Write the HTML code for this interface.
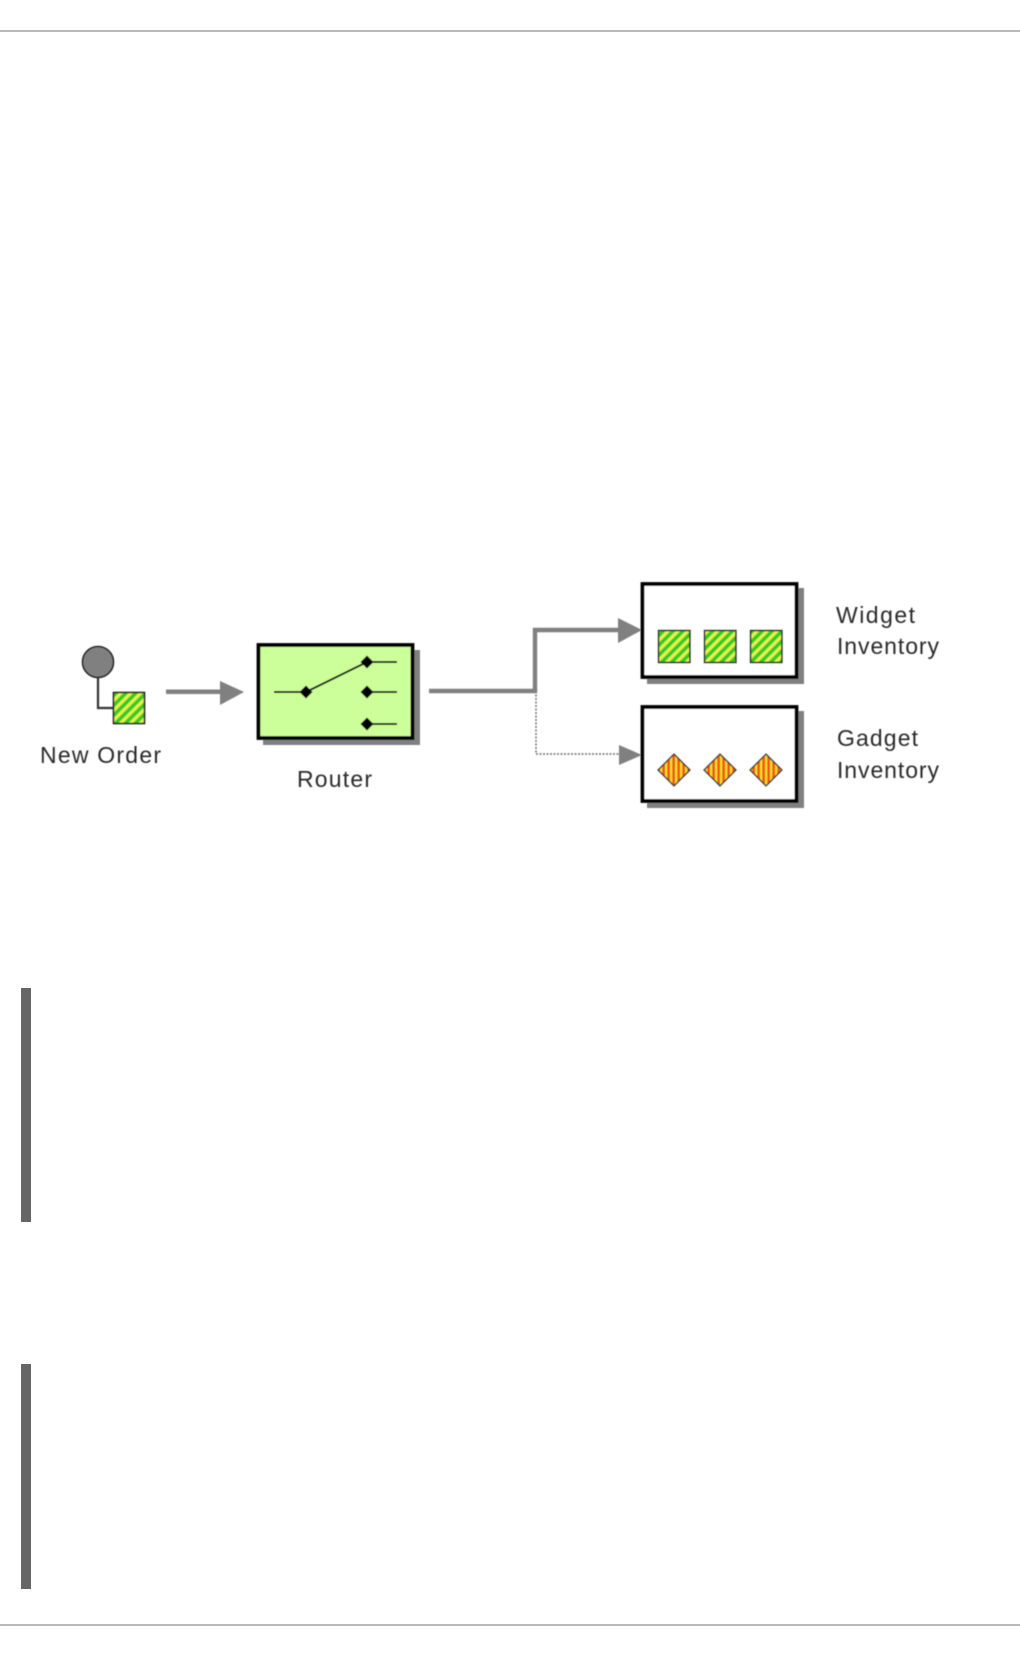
<!DOCTYPE html>
<html><head><meta charset="utf-8"><style>
html,body{margin:0;padding:0;background:#fff;width:1020px;height:1656px;overflow:hidden}
svg{display:block}
text{font-family:"Liberation Sans",sans-serif;font-size:23px;fill:#2a2a2a}
</style></head><body>
<svg width="1020" height="1656" viewBox="0 0 1020 1656" xmlns="http://www.w3.org/2000/svg">
<defs>
<pattern id="g" width="7" height="7" patternUnits="userSpaceOnUse" patternTransform="rotate(45)">
<rect width="7" height="7" fill="#33cc22"/><rect width="3.3" height="7" fill="#e8f050"/>
</pattern>
<pattern id="o" width="5" height="5" patternUnits="userSpaceOnUse">
<rect width="5" height="5" fill="#ee5a10"/><rect width="2.3" height="5" fill="#f6dc30"/>
</pattern>
<filter id="b" x="-5%" y="-5%" width="110%" height="110%"><feGaussianBlur stdDeviation="0.6"/></filter>
</defs>
<rect x="0" y="30" width="1020" height="2" fill="#b9b9b9"/>
<rect x="0" y="1624" width="1020" height="2" fill="#b9b9b9"/>
<rect x="21" y="988" width="10" height="234" fill="#666"/>
<rect x="21" y="1364" width="10" height="225" fill="#666"/>
<g filter="url(#b)">
<!-- New Order -->
<path d="M98 678V708H113" fill="none" stroke="#333" stroke-width="2.2"/>
<circle cx="98" cy="662" r="15.5" fill="#808080" stroke="#222" stroke-width="1.6"/>
<rect x="113.5" y="692.5" width="31" height="31" fill="url(#g)" stroke="#222" stroke-width="1.6"/>
<!-- Arrow to router -->
<rect x="166" y="689.5" width="56" height="4.5" fill="#808080"/>
<path d="M220 681L244 692L220 705Z" fill="#808080"/>
<!-- Router -->
<rect x="263" y="650" width="157" height="95" fill="#808080"/>
<rect x="258.5" y="645" width="154" height="93" fill="#ccff99" stroke="#000" stroke-width="3.8"/>
<path d="M274 692H306L367 662M367 662H397M367 692H397M367 724H397" fill="none" stroke="#000" stroke-width="2"/>
<path d="M306 685.5l6.5 6.5l-6.5 6.5l-6.5-6.5zM367 655.5l6.5 6.5l-6.5 6.5l-6.5-6.5zM367 685.5l6.5 6.5l-6.5 6.5l-6.5-6.5zM367 717.5l6.5 6.5l-6.5 6.5l-6.5-6.5z" fill="#000"/>
<!-- Connectors -->
<path d="M429 691H535V630H620" fill="none" stroke="#808080" stroke-width="4.4"/>
<path d="M618 618L642 630L618 643Z" fill="#808080"/>
<path d="M536 691V754H620" fill="none" stroke="#808080" stroke-width="1.7" stroke-dasharray="2 1.5"/>
<path d="M619 745L642 755L619 765Z" fill="#808080"/>
<!-- Widget box -->
<rect x="647" y="588" width="157" height="96" fill="#808080"/>
<rect x="642.5" y="584" width="154" height="93" fill="#fff" stroke="#000" stroke-width="3.8"/>
<rect x="658.5" y="630.5" width="31.5" height="32" fill="url(#g)" stroke="#222" stroke-width="1.6"/>
<rect x="704.5" y="630.5" width="31.5" height="32" fill="url(#g)" stroke="#222" stroke-width="1.6"/>
<rect x="750.5" y="630.5" width="31.5" height="32" fill="url(#g)" stroke="#222" stroke-width="1.6"/>
<!-- Gadget box -->
<rect x="647" y="711" width="157" height="97" fill="#808080"/>
<rect x="642.5" y="707" width="154" height="94" fill="#fff" stroke="#000" stroke-width="3.8"/>
<path d="M674 754l16 16l-16 16l-16-16z" fill="url(#o)" stroke="#333" stroke-width="1.5"/>
<path d="M720 754l16 16l-16 16l-16-16z" fill="url(#o)" stroke="#333" stroke-width="1.5"/>
<path d="M766 754l16 16l-16 16l-16-16z" fill="url(#o)" stroke="#333" stroke-width="1.5"/>
<!-- Labels -->
<text x="40" y="763" textLength="121" lengthAdjust="spacing">New Order</text>
<text x="297" y="787" textLength="75" lengthAdjust="spacing">Router</text>
<text x="836" y="623" textLength="79" lengthAdjust="spacing">Widget</text>
<text x="837" y="654" textLength="102" lengthAdjust="spacing">Inventory</text>
<text x="837" y="746" textLength="81" lengthAdjust="spacing">Gadget</text>
<text x="837" y="778" textLength="102" lengthAdjust="spacing">Inventory</text>
</g>
</svg>
</body></html>
